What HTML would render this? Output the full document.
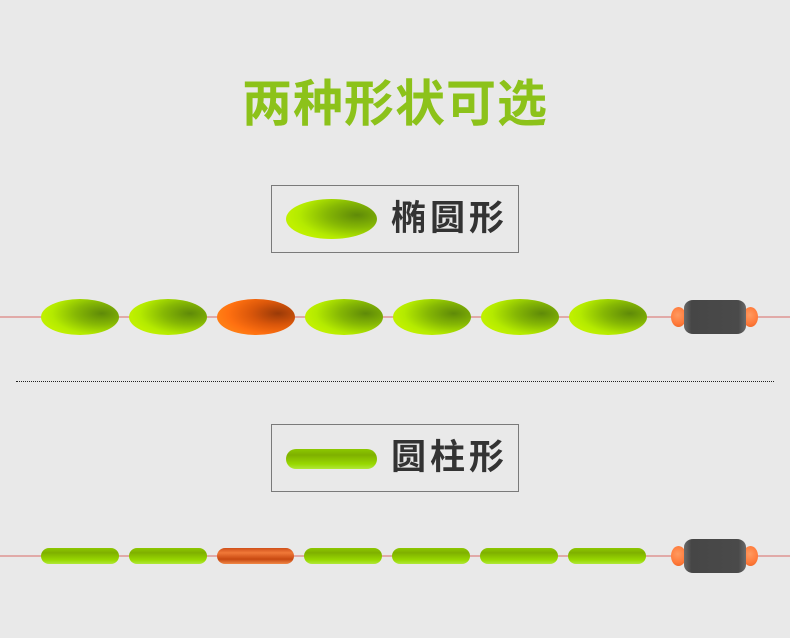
<!DOCTYPE html>
<html><head><meta charset="utf-8"><style>
body{margin:0;width:790px;height:638px;background:#e9e9e9;position:relative;overflow:hidden;font-family:"Liberation Sans","Noto Sans CJK SC",sans-serif}
.a{position:absolute}
.title{left:0;width:790px;top:74px;text-align:center;font-size:50px;font-weight:bold;color:#8cc21a;letter-spacing:1px;line-height:60px}
.box{border:1px solid #7a7a7a;width:246px;height:66px}
.lbl{font-size:35px;font-weight:bold;color:#333;line-height:40px;letter-spacing:4px}
.line{left:0;width:790px;height:2px;background:#e1aaa8}
.el{width:78px;height:36px;border-radius:50%;background:radial-gradient(ellipse 75% 70% at 78% 40%,#5f8a08 0%,#86b804 45%,#b4ea00 85%,#bff000 100%)}
.el.o{background:radial-gradient(ellipse 75% 70% at 78% 40%,#9a3a08 0%,#d9560a 45%,#ff7010 85%,#ff7c14 100%)}
.cy{width:78px;height:16px;border-radius:8px;background:linear-gradient(#8cc800,#7fb000 30%,#98d800 75%,#b0e83a)}
.cy.o{background:linear-gradient(#d0501a,#f07838 30%,#c84810 70%,#f08848)}
.ball{width:15px;height:20px;border-radius:50%;background:radial-gradient(circle at 45% 40%,#ff9a60,#ff7a3a 60%,#e86020)}
.body{width:62px;height:34px;border-radius:9px/8px;background:linear-gradient(90deg,#6a6a6a,#464646 12%,#4a4a4a 88%,#6a6a6a)}
</style></head><body>
<div class="a title">两种形状可选</div>

<div class="a box" style="left:271px;top:185px"></div>
<div class="a el" style="left:286px;top:199px;width:91px;height:40px"></div>
<div class="a lbl" style="left:391px;top:199px">椭圆形</div>

<div class="a line" style="top:316px"></div>
<div class="a el" style="left:41px;top:299px"></div>
<div class="a el" style="left:129px;top:299px"></div>
<div class="a el o" style="left:217px;top:299px"></div>
<div class="a el" style="left:305px;top:299px"></div>
<div class="a el" style="left:393px;top:299px"></div>
<div class="a el" style="left:481px;top:299px"></div>
<div class="a el" style="left:569px;top:299px"></div>
<div class="a ball" style="left:671px;top:307px"></div>
<div class="a ball" style="left:743px;top:307px"></div>
<div class="a body" style="left:684px;top:300px"></div>

<div class="a" style="left:16px;top:381px;width:758px;border-top:1px dotted #222"></div>

<div class="a box" style="left:271px;top:424px"></div>
<div class="a cy" style="left:286px;top:449px;width:91px;height:20px;border-radius:10px"></div>
<div class="a lbl" style="left:391px;top:438px">圆柱形</div>

<div class="a line" style="top:555px"></div>
<div class="a cy" style="left:41px;top:548px"></div>
<div class="a cy" style="left:129px;top:548px"></div>
<div class="a cy o" style="left:217px;top:548px;width:77px"></div>
<div class="a cy" style="left:304px;top:548px"></div>
<div class="a cy" style="left:392px;top:548px"></div>
<div class="a cy" style="left:480px;top:548px"></div>
<div class="a cy" style="left:568px;top:548px"></div>
<div class="a ball" style="left:671px;top:546px"></div>
<div class="a ball" style="left:743px;top:546px"></div>
<div class="a body" style="left:684px;top:539px"></div>
</body></html>
